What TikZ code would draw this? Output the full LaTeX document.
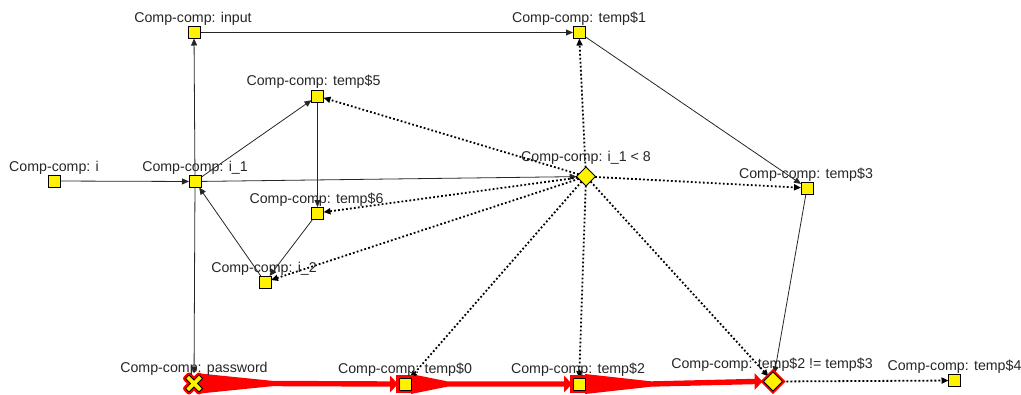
\documentclass[tikz,border=0pt]{standalone}
\usepackage{fontspec}
\setmainfont{Liberation Sans}
\usetikzlibrary{shapes.geometric,arrows.meta,calc,backgrounds}

% thick red tapered flow from #1 to #2; #3 = length of the taper
\newcommand\hotflow[3]{%
  \fill[red] ($(#1)+(6,-10)$) -- ($(#1)+(#3,-2.7)$)
    -- ($(#2.west)+(-9,-2.7)$) -- ($(#2.west)+(-9,-8.5)$)
    -- ($(#2.west)+(-1,0)$)
    -- ($(#2.west)+(-9,8.5)$) -- ($(#2.west)+(-9,2.7)$)
    -- ($(#1)+(#3,2.7)$) -- ($(#1)+(6,10)$) -- cycle;}

\begin{document}
\begin{tikzpicture}[x=1pt,y=-1pt,
  box/.style={draw=black, fill=yellow, line width=0.8pt, minimum size=12pt,
    inner sep=0pt, outer sep=0pt},
  cond/.style={diamond, draw=black, fill=yellow, line width=0.8pt,
    minimum size=19pt, inner sep=0pt, outer sep=0pt},
  hot/.style={preaction={draw=red, line width=6pt}},
  tag/.style={font=\fontsize{14.2}{16}\selectfont, text=black!85,
    inner sep=0pt, anchor=base},
  flow/.style={draw=black!85, line width=0.8pt,
    -{Triangle[length=7pt,width=6pt]}},
  ctrl/.style={draw=black, line width=1.8pt, dash pattern=on 1.8pt off 2.2pt,
    -{Triangle[length=7pt,width=6pt]}}]

\useasboundingbox (0,0) rectangle (1021,394);

% nodes
\node[box] (i)     at (54,181)     {};
\node[box] (i1)    at (195,181.5)  {};
\node[box] (input) at (194,32.5)   {};
\node[box] (t1)    at (579,32.5)   {};
\node[box] (t5)    at (317.5,96)   {};
\node[box] (t6)    at (317.5,213)  {};
\node[box] (i2)    at (265,282)    {};
\node[cond] (c1)   at (586,176.5)  {};
\node[box] (t3)    at (807,188)    {};
\node[minimum size=20pt, inner sep=0pt, outer sep=0pt] (pw) at (194,383.5) {};
\node[box,hot] (t0) at (405,384)   {};
\node[box,hot] (t2) at (579,384)   {};
\node[cond, preaction={draw=red, line width=4.5pt}] (c2) at (773,381.5) {};
\node[box] (t4)    at (954.5,380.5) {};

% the crossed marker of the password node
\begin{scope}[shift={(pw)}]
  \path[preaction={draw=red, line width=5pt, line join=round},
        fill=yellow, draw=black, line width=0.8pt]
    (-8.5,-5) -- (-5,-8.5) -- (0,-3.5) -- (5,-8.5) -- (8.5,-5) -- (3.5,0)
    -- (8.5,5) -- (5,8.5) -- (0,3.5) -- (-5,8.5) -- (-8.5,5) -- (-3.5,0) -- cycle;
\end{scope}

% labels
\node[tag] (i-t)     at ($(i)+(0,-10)$)     {Comp-comp: i};
\node[tag] (i1-t)    at ($(i1)+(0,-10)$)    {Comp-comp: i\_1};
\node[tag] (input-t) at ($(input)+(-1,-10)$) {Comp-comp: input};
\node[tag] (t1-t)    at ($(t1)+(0,-10.5)$)  {Comp-comp: temp\$1};
\node[tag] (t5-t)    at ($(t5)+(-4,-10.5)$) {Comp-comp: temp\$5};
\node[tag] (t6-t)    at ($(t6)+(-1,-10)$)   {Comp-comp: temp\$6};
\node[tag] (i2-t)    at ($(i2)+(-1,-10)$)   {Comp-comp: i\_2};
\node[tag] (c1-t)    at ($(c1)+(0,-15)$)    {Comp-comp: i\_1 < 8};
\node[tag] (t3-t)    at ($(t3)+(-1,-10)$)   {Comp-comp: temp\$3};
\node[tag] (pw-t)    at ($(pw)+(0,-11.5)$)  {Comp-comp: password};
\node[tag] (t0-t)    at ($(t0)+(0,-11)$)    {Comp-comp: temp\$0};
\node[tag] (t2-t)    at ($(t2)+(-1,-11)$)   {Comp-comp: temp\$2};
\node[tag] (c2-t)    at ($(c2)+(-1,-13.5)$) {Comp-comp: temp\$2 != temp\$3};
\node[tag] (t4-t)    at ($(t4)+(0,-10.5)$)  {Comp-comp: temp\$4};

\begin{pgfonlayer}{background}
  % red flow along the bottom row
  \hotflow{pw}{t0}{78}
  \hotflow{t0}{t2}{42}
  \hotflow{t2}{c2}{72}

  % data flow
  \draw[flow] (i) -- (i1);
  \draw[flow] (i1) -- (input);
  \draw[flow] (input) -- (t1);
  \draw[flow] (i1) -- (t5);
  \draw[flow] (t5) -- (t6);
  \draw[flow] (t6) -- (i2);
  \draw[flow] (i2) -- (i1);
  \draw[flow] (i1) -- (c1);
  \draw[flow] (i1) -- (pw);
  \draw[flow] (t1) -- (t3);
  \draw[flow] (t3) -- (c2);

  % control dependences
  \draw[ctrl] (c1) -- (t1);
  \draw[ctrl] (c1) -- (t5);
  \draw[ctrl] (c1) -- (t6);
  \draw[ctrl] (c1) -- (i2);
  \draw[ctrl] (c1) -- (t3);
  \draw[ctrl] (c1) -- (t0);
  \draw[ctrl] (c1) -- (t2);
  \draw[ctrl] (c1) -- (c2);
  \draw[ctrl] (c2) -- (t4);
\end{pgfonlayer}
\end{tikzpicture}
\end{document}
